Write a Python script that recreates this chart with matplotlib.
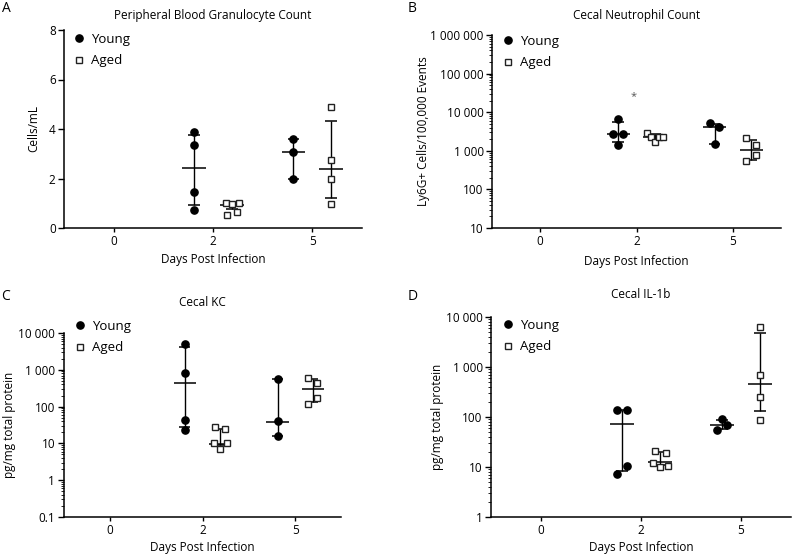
import matplotlib
matplotlib.use("Agg")
import matplotlib.pyplot as plt
from matplotlib.lines import Line2D
from matplotlib.ticker import FixedLocator, FuncFormatter, LogLocator, NullFormatter

plt.rcParams['font.family'] = ['Open Sans', 'DejaVu Sans']

W, H = 793, 558

days = ["0", "2", "5"]

# --- A: peripheral blood granulocytes (cells/mL) ---
a_young = [[], [3.87, 3.35, 1.44, 0.73], [3.58, 3.06, 2.0]]
a_young_bar = [None, (2.41, 0.92, 3.74), (3.06, 2.0, 3.58)]   # (centre, low, high)
a_aged = [[], [1.0, 0.98, 1.0, 0.53, 0.63], [4.88, 2.75, 2.0, 0.97]]
a_aged_bar = [None, (0.93, 0.78, 1.02), (2.38, 1.23, 4.34)]

# --- B: cecal neutrophils (Ly6G+ per 100,000 events) ---
b_young = [[], [6550, 2800, 2750, 1410], [5240, 4110, 1530]]
b_young_bar = [None, (2760, 1730, 5550), (4110, 1530, 5030)]
b_aged = [[], [2860, 2240, 1730, 2240, 2340], [2200, 1410, 770, 560]]
b_aged_bar = [None, (2340, 2060, 2710), (1080, 590, 1850)]
b_star = (1, 25000)

# --- C: cecal KC (pg/mg total protein) ---
c_young = [[], [5150, 796, 42.8, 23.4], [548, 39.4, 15.8]]
c_young_bar = [None, (427, 28, 4100), (39, 15.8, 548)]
c_aged = [[], [28.2, 24.9, 10.2, 10.2, 6.9], [584, 436, 168, 120]]
c_aged_bar = [None, (9.6, 8.9, 25.4), (300, 134, 548)]

# --- D: cecal IL-1b (pg/mg total protein) ---
d_young = [[], [136, 136, 10.6, 7.3], [90, 55, 68]]
d_young_bar = [None, (73.6, 8.2, 136), (68, 58, 87)]
d_aged = [[], [20.9, 19, 12, 9.8, 10.7], [6300, 703, 251, 88.5]]
d_aged_bar = [None, (12.4, 11, 19.7), (464, 130, 4790)]

# horizontal scatter of individual points inside a group
a_young_jit = [[], [0, 0, 0, 0], [0, 0, 0]]
a_aged_jit = [[], [-0.06, 0, 0.07, -0.05, 0.05], [0, 0, 0, 0]]
b_young_jit = [[], [0, -0.05, 0.05, 0], [-0.05, 0.05, 0]]
b_aged_jit = [[], [-0.08, -0.04, 0, 0.04, 0.08], [-0.05, 0.05, 0.05, -0.05]]
c_young_jit = [[], [0, 0, 0, 0], [0, 0, 0]]
c_aged_jit = [[], [-0.05, 0.05, -0.07, 0.07, 0], [-0.05, 0.05, 0.05, -0.05]]
d_young_jit = [[], [-0.05, 0.05, 0.05, -0.05], [0, -0.05, 0.05]]
d_aged_jit = [[], [-0.05, 0.06, -0.07, 0, 0.08], [0, 0, 0, 0]]


def px_axes(fig, left, top, right, bottom):
    return fig.add_axes([left / W, 1 - bottom / H, (right - left) / W, (bottom - top) / H])


def fig_text(fig, x, y, s, **kw):
    fig.text(x / W, 1 - y / H, s, ha='center', va='center', **kw)


def fmt_tick(v, pos):
    if v < 1:
        return f"{v:g}"
    return f"{v:,.0f}".replace(",", " ")


def draw_group(ax, values, bars, jitter, offset, marker):
    for i, (vals, bar, jit) in enumerate(zip(values, bars, jitter)):
        if not vals:
            continue
        x = i + offset
        mid, lo, hi = bar
        ax.vlines(x, lo, hi, color='k', lw=1.0, zorder=2)
        ax.hlines([lo, hi], x - 0.06, x + 0.06, color='k', lw=1.1, zorder=2)
        ax.hlines(mid, x - 0.12, x + 0.12, color='k', lw=1.1, zorder=2)
        xs = [x + j for j in jit]
        if marker == 'o':
            ax.plot(xs, vals, 'o', color='k', ms=5.2, ls='none', zorder=3)
        else:
            ax.plot(xs, vals, 's', mfc='white', mec='#222222', mew=1.0,
                    ms=5.0, ls='none', zorder=3)


def setup_axes(ax, log, ylim, yticks):
    for side in ['top', 'right']:
        ax.spines[side].set_visible(False)
    for side in ['left', 'bottom']:
        ax.spines[side].set_linewidth(1.1)
    ax.set_xlim(-0.5, 2.5)
    ax.set_xticks(range(len(days)))
    ax.set_xticklabels(days)
    if log:
        ax.set_yscale('log')
        ax.yaxis.set_minor_locator(LogLocator(base=10, subs=range(2, 10), numticks=20))
        ax.yaxis.set_minor_formatter(NullFormatter())
    ax.set_ylim(*ylim)
    ax.yaxis.set_major_locator(FixedLocator(yticks))
    ax.yaxis.set_major_formatter(FuncFormatter(fmt_tick))
    ax.tick_params(axis='both', which='major', length=4, width=1.0, labelsize=8.5, pad=2)
    ax.tick_params(axis='y', which='minor', length=2, width=0.6)
    ax.tick_params(axis='x', which='major', length=3)


def add_legend(fig, ax, mx, my):
    handles = [
        Line2D([], [], marker='o', color='k', ls='none', ms=5.2),
        Line2D([], [], marker='s', mfc='white', mec='#222222', mew=1.0, ls='none', ms=5.0),
    ]
    ax.legend(handles, ["Young", "Aged"], loc='upper left', frameon=False,
              bbox_to_anchor=((mx - 7) / W, 1 - (my - 9) / H),
              bbox_transform=fig.transFigure, borderpad=0, borderaxespad=0,
              handlelength=1.1, handletextpad=0.35, labelspacing=0.62, fontsize=9.5)


fig = plt.figure(figsize=(W / 100, H / 100), dpi=100)

panels = [
    dict(box=(64, 30, 362, 228), log=False, ylim=(0, 8), yticks=[0, 2, 4, 6, 8],
         young=(a_young, a_young_bar, a_young_jit), aged=(a_aged, a_aged_bar, a_aged_jit),
         title="Peripheral Blood Granulocyte Count", title_y=15, ylabel="Cells/mL",
         ylabel_x=34, xlabel_y=260, letter="A", letter_xy=(6, 9), leg=(79, 42)),
    dict(box=(492, 35, 781, 228), log=True, ylim=(10, 1e6),
         yticks=[10, 100, 1e3, 1e4, 1e5, 1e6],
         young=(b_young, b_young_bar, b_young_jit), aged=(b_aged, b_aged_bar, b_aged_jit),
         title="Cecal Neutrophil Count", title_y=15, ylabel="Ly6G+ Cells/100,000 Events",
         ylabel_x=423, xlabel_y=261, letter="B", letter_xy=(412, 9), leg=(508, 44)),
    dict(box=(63.5, 333, 341.5, 517), log=True, ylim=(0.1, 1e4),
         yticks=[0.1, 1, 10, 100, 1e3, 1e4],
         young=(c_young, c_young_bar, c_young_jit), aged=(c_aged, c_aged_bar, c_aged_jit),
         title="Cecal KC", title_y=303, ylabel="pg/mg total protein",
         ylabel_x=10, xlabel_y=548, letter="C", letter_xy=(6, 297), leg=(80, 329)),
    dict(box=(491, 317, 791, 517), log=True, ylim=(1, 1e4),
         yticks=[1, 10, 100, 1e3, 1e4],
         young=(d_young, d_young_bar, d_young_jit), aged=(d_aged, d_aged_bar, d_aged_jit),
         title="Cecal IL-1b", title_y=295, ylabel="pg/mg total protein",
         ylabel_x=438, xlabel_y=548, letter="D", letter_xy=(413, 297), leg=(508, 328)),
]

for p in panels:
    left, top, right, bottom = p['box']
    ax = px_axes(fig, left, top, right, bottom)
    draw_group(ax, *p['young'], offset=-0.19, marker='o')
    draw_group(ax, *p['aged'], offset=0.19, marker='s')
    setup_axes(ax, p['log'], p['ylim'], p['yticks'])
    add_legend(fig, ax, *p['leg'])
    cx = (left + right) / 2
    fig_text(fig, cx, p['title_y'], p['title'], fontsize=8.5)
    fig_text(fig, cx, p['xlabel_y'], "Days Post Infection", fontsize=8.5)
    fig_text(fig, p['ylabel_x'], (top + bottom) / 2, p['ylabel'], fontsize=8.5, rotation=90)
    fig_text(fig, *p['letter_xy'], p['letter'], fontsize=10)
    if p['letter'] == "B":
        ax.text(b_star[0] - 0.03, b_star[1], "*", ha='center', va='center',
                fontsize=8, color='#555555')

fig.savefig("out.png", dpi=100)
